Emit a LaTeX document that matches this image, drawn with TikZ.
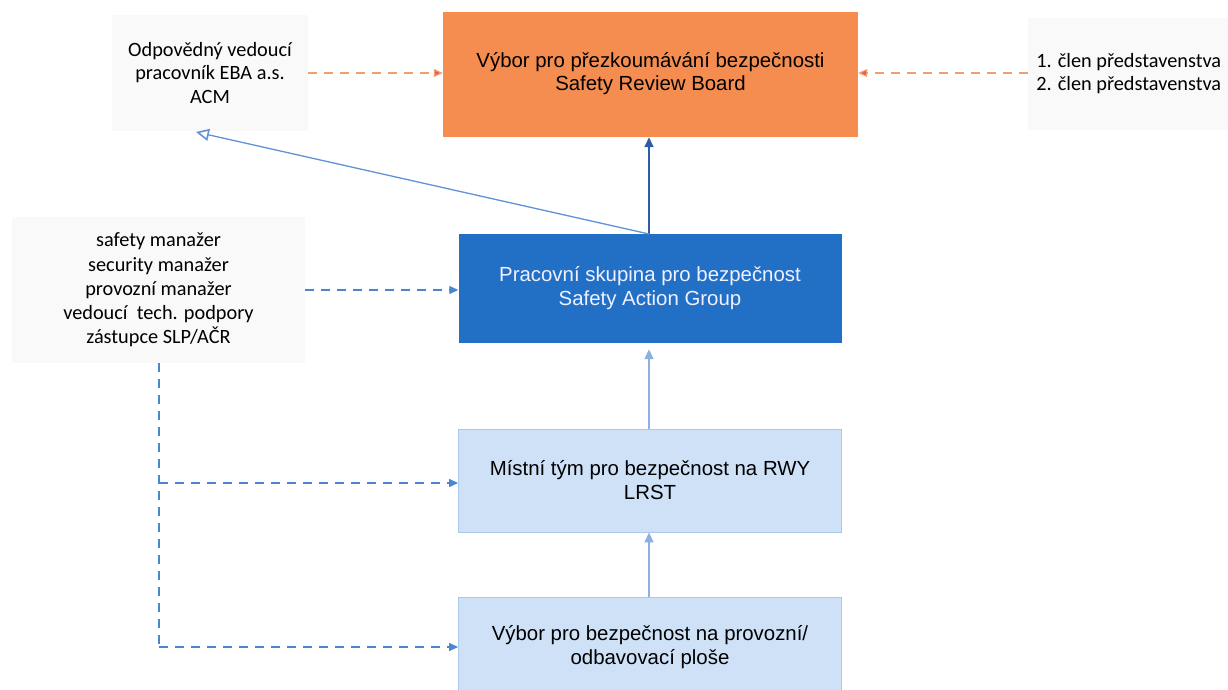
\documentclass[tikz,border=0pt]{standalone}
\usepackage{fontspec}
\setmainfont{Liberation Sans}
\newfontfamily\calibrifont{Carlito}
\usetikzlibrary{arrows.meta}
\definecolor{srborange}{RGB}{245,141,80}
\definecolor{sagblue}{RGB}{34,112,198}
\definecolor{lightfill}{RGB}{206,225,247}
\definecolor{lightedge}{RGB}{170,200,236}
\definecolor{sidefill}{RGB}{249,249,249}
\definecolor{dashorange}{RGB}{240,160,110}
\definecolor{tiporange}{RGB}{230,95,70}
\definecolor{dashblue}{RGB}{74,134,208}
\definecolor{linkblue}{RGB}{96,146,214}
\definecolor{upblue}{RGB}{47,92,168}
\definecolor{paleblue}{RGB}{140,176,226}
\begin{document}
\begin{tikzpicture}[x=1pt,y=-1pt,
  unitbox/.style={minimum width=383pt,align=center,inner sep=0pt,
    font=\fontsize{20.4}{24}\selectfont},
  lightbox/.style={unitbox,fill=lightfill,draw=lightedge,line width=0.8pt},
  sidebox/.style={fill=sidefill,draw=none,inner sep=0pt,
    font=\calibrifont\fontsize{20.3}{23.5}\selectfont},
  dasharrow/.style={dashed,dash pattern=on 9pt off 7pt,line width=1.2pt,
    -{Triangle[length=9pt,width=8pt]}},
  solidup/.style={line width=1.6pt,-{Triangle[length=10pt,width=9pt]}}]
\useasboundingbox (0,0) rectangle (1228,689);

% review board and its working groups
\node[unitbox,fill=srborange,minimum width=415pt,minimum height=125pt,
  font=\fontsize{20.4}{23}\selectfont] (srb) at (650.5,74.5)
  {\raisebox{2pt}{\begin{tabular}{@{}c@{}}Výbor pro přezkoumávání bezpečnosti\\Safety Review Board\end{tabular}}};
\node[unitbox,fill=sagblue,text=white!94!blue,minimum height=109pt] (sag) at (650,288.5)
  {Pracovní skupina pro bezpečnost\\Safety Action Group};
\node[lightbox,minimum height=103pt] (lrst) at (650,480.5)
  {Místní tým pro bezpečnost na RWY\\LRST};
\node[lightbox,minimum height=101pt] (apron) at (650,647.5)
  {Výbor pro bezpečnost na provozní/\\odbavovací ploše};

% members feeding the committees
\node[sidebox,minimum width=196pt,minimum height=116pt,align=center] (acm) at (210,73)
  {Odpovědný vedoucí\\pracovník EBA a.s.\\ACM};
\node[sidebox,minimum width=200pt,minimum height=112pt,align=left,anchor=west] (board) at (1028,74)
  {\hspace*{1pt}\begin{tabular}{@{}l@{}}1. člen představenstva\\[-0.5pt]2. člen představenstva\end{tabular}};
\node[sidebox,minimum width=293pt,minimum height=146pt,align=center,
  font=\calibrifont\fontsize{20.3}{24.3}\selectfont] (mgrs) at (158.5,290)
  {safety manažer\\security manažer\\provozní manažer\\vedoucí\ \ tech. podpory\\zástupce SLP/AČR};

% reporting lines
\coordinate (sagtop) at (649,234);
\coordinate (acmfoot) at (196,132);
\coordinate (stem) at (649,400);
\draw[solidup,draw=upblue,fill=upblue] (sagtop) -- (sagtop |- srb.south);
\draw[line width=1.3pt,draw=linkblue,-{Triangle[open,length=13pt,width=12pt,line width=1.6pt]}]
  (sagtop) -- (acmfoot);
\draw[line width=1.4pt,draw=paleblue,fill=paleblue,-{Triangle[length=10pt,width=9pt]},
  shorten >=6pt] (stem |- lrst.north) -- (stem |- sag.south);
\draw[line width=1.4pt,draw=paleblue,fill=paleblue,-{Triangle[length=10pt,width=9pt]}]
  (stem |- apron.north) -- (stem |- lrst.south);

% attendance lines
\coordinate (toprow) at (0,73);
\coordinate (midrow) at (0,290);
\draw[dasharrow,draw=dashorange,-{Triangle[length=9pt,width=8pt,fill=tiporange]}]
  (acm.east |- toprow) -- (srb.west |- toprow);
\draw[dasharrow,draw=dashorange,-{Triangle[length=9pt,width=8pt,fill=tiporange]}]
  (board.west |- toprow) -- (srb.east |- toprow);
\draw[dasharrow,draw=dashblue] (mgrs.east |- midrow) -- (sag.west |- midrow);
\coordinate (branch) at (159,483);
\coordinate (corner) at (159,647);
\draw[dashed,dash pattern=on 9pt off 7pt,line width=1.2pt,draw=dashblue]
  (corner |- mgrs.south) -- (corner);
\draw[dasharrow,draw=dashblue] (branch) -- (lrst.west |- branch);
\draw[dasharrow,draw=dashblue] (corner) -- (apron.west |- corner);
\end{tikzpicture}
\end{document}
